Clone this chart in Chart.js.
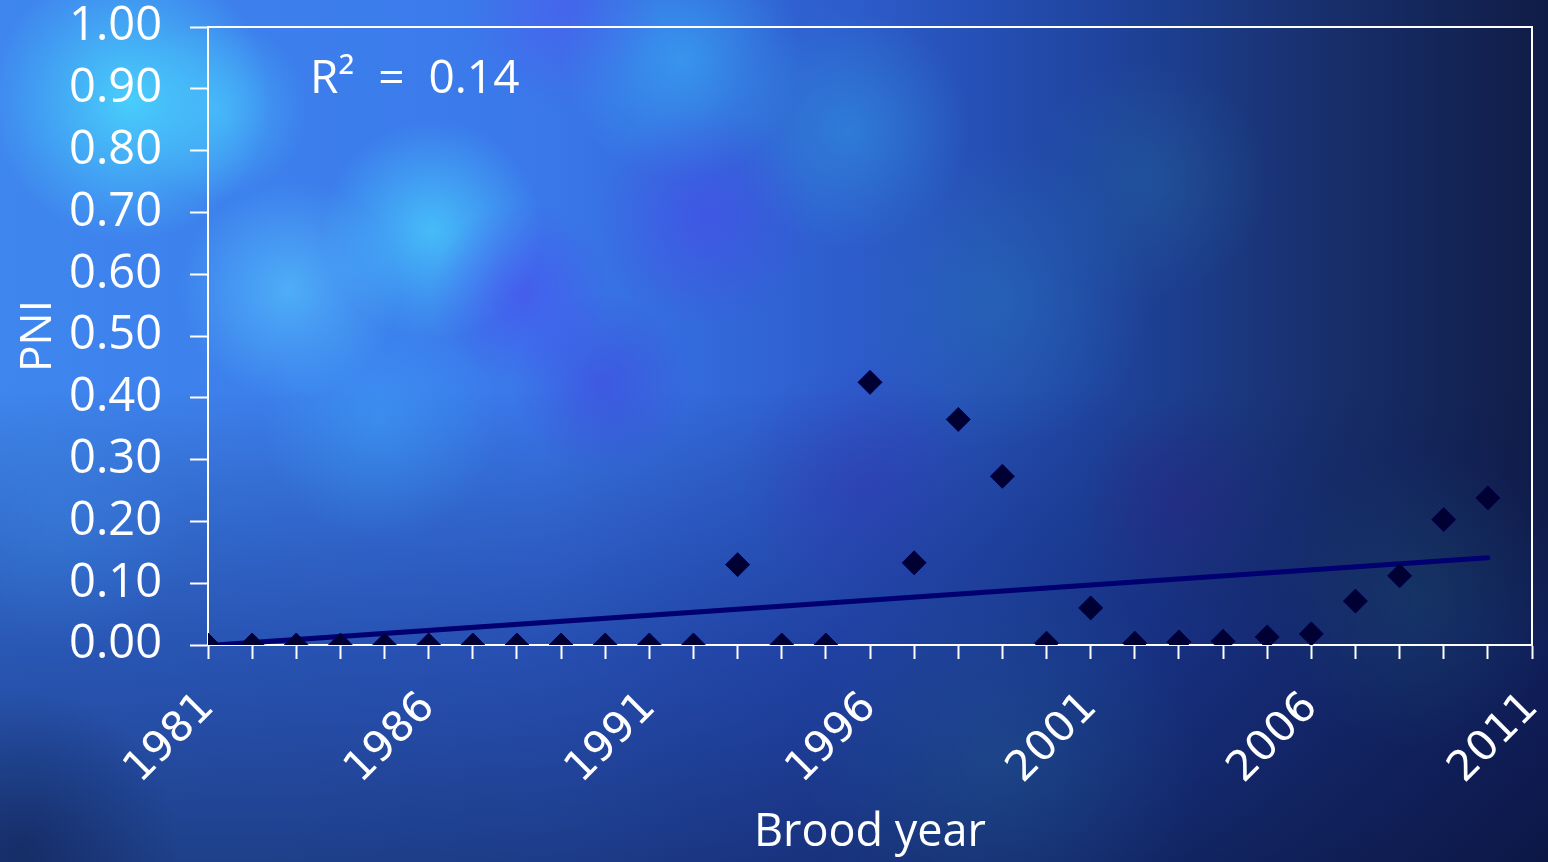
<!DOCTYPE html>
<html>
<head>
<meta charset="utf-8">
<script src="https://cdn.jsdelivr.net/npm/chart.js@4"></script>
<style>
    html, body { margin: 0; padding: 0; background: #1b2f86; overflow: hidden; }
    #wrap { width: 1548px; height: 862px; position: relative; }
</style>
</head>
<body>
<div id="wrap"><canvas id="pni_chart" width="1548" height="862"></canvas></div>
<script>
// brood years and PNI values
var years = [1981, 1982, 1983, 1984, 1985, 1986, 1987, 1988, 1989, 1990,
             1991, 1992, 1993, 1994, 1995, 1996, 1997, 1998, 1999, 2000,
             2001, 2002, 2003, 2004, 2005, 2006, 2007, 2008, 2009, 2010];
var pni = [0, 0, 0, 0, 0, 0, 0, 0, 0, 0,
           0, 0, 0.130, 0, 0, 0.425, 0.133, 0.365, 0.273, 0.003,
           0.060, 0.003, 0.005, 0.006, 0.013, 0.018, 0.071, 0.112, 0.203, 0.238];

// linear trend line end points
var trendYears = [1981, 2010];
var trendPni = [-0.001, 0.141];

var yTicks = [0, 0.1, 0.2, 0.3, 0.4, 0.5, 0.6, 0.7, 0.8, 0.9, 1.0];
var labelYears = [1981, 1986, 1991, 1996, 2001, 2006, 2011];
var r2Text = 'R\u00B2  =  0.14';

function toPoints(xs, ys){
    var out = [];
    for (var i = 0; i < xs.length; i++) out.push({x: xs[i], y: ys[i]});
    return out;
}

// cloudy blue backdrop
var backdrop = {
    id: 'backdrop',
    beforeDraw: function(chart){
        var ctx = chart.ctx, w = chart.width, h = chart.height;
        ctx.save();
        var g = ctx.createLinearGradient(0, 0, w, 0);
        g.addColorStop(0, '#3f86ee');
        g.addColorStop(0.35, '#3a78ea');
        g.addColorStop(0.55, '#2d5ccc');
        g.addColorStop(0.7, '#2046a2');
        g.addColorStop(0.85, '#18306e');
        g.addColorStop(1, '#101c46');
        ctx.fillStyle = g;
        ctx.fillRect(0, 0, w, h);
        var v = ctx.createLinearGradient(0, 0, 0, h);
        v.addColorStop(0, 'rgba(10,20,80,0)');
        v.addColorStop(0.45, 'rgba(10,20,80,0)');
        v.addColorStop(0.75, 'rgba(15,30,110,0.45)');
        v.addColorStop(1, 'rgba(10,20,70,0.6)');
        ctx.fillStyle = v;
        ctx.fillRect(0, 0, w, h);
        var blobs = [
            [130, 100, 140, 'rgba(75,225,255,0.8)'],
            [218, 110, 90, 'rgba(75,210,255,0.5)'],
            [432, 230, 110, 'rgba(75,215,255,0.7)'],
            [289, 290, 110, 'rgba(90,205,255,0.6)'],
            [682, 60, 120, 'rgba(60,190,255,0.5)'],
            [850, 130, 120, 'rgba(50,170,230,0.4)'],
            [380, 420, 120, 'rgba(60,180,255,0.35)'],
            [60, 520, 130, 'rgba(60,140,230,0.3)'],
            [521, 293, 90, 'rgba(80,60,240,0.45)'],
            [704, 217, 110, 'rgba(80,60,240,0.4)'],
            [602, 383, 90, 'rgba(70,50,220,0.4)'],
            [560, 10, 100, 'rgba(90,70,240,0.35)'],
            [1000, 300, 150, 'rgba(40,130,190,0.35)'],
            [1150, 180, 120, 'rgba(40,120,170,0.3)'],
            [1420, 600, 150, 'rgba(30,90,110,0.3)'],
            [1180, 500, 100, 'rgba(50,30,130,0.35)'],
            [860, 480, 120, 'rgba(60,40,170,0.3)'],
            [1000, 760, 200, 'rgba(40,110,150,0.3)'],
            [20, 850, 160, 'rgba(10,20,60,0.45)']
        ];
        blobs.forEach(function(b){
            var rg = ctx.createRadialGradient(b[0], b[1], 0, b[0], b[1], b[2]);
            rg.addColorStop(0, b[3]);
            rg.addColorStop(1, b[3].replace(/[\d.]+\)$/, '0)'));
            ctx.fillStyle = rg;
            ctx.fillRect(0, 0, w, h);
        });
        ctx.restore();
    },
    afterDatasetsDraw: function(chart){
        var ctx = chart.ctx, a = chart.chartArea;
        ctx.save();
        ctx.strokeStyle = '#ffffff';
        ctx.lineWidth = 2;
        ctx.beginPath();
        ctx.moveTo(a.left, a.top);
        ctx.lineTo(a.right, a.top);
        ctx.lineTo(a.right, a.bottom);
        ctx.stroke();
        ctx.fillStyle = '#ffffff';
        ctx.font = '46px "Open Sans"';
        ctx.textBaseline = 'middle';
        ctx.fillText(r2Text, a.left + 102, a.top + 53);
        ctx.restore();
    }
};

var ctx = document.getElementById('pni_chart').getContext('2d');
var myChart = new Chart(ctx, {
    type: 'scatter',
    data: {
        datasets: [{
            label: 'PNI',
            data: toPoints(years, pni),
            pointStyle: 'rectRot',
            pointRadius: 12,
            pointHoverRadius: 12,
            backgroundColor: '#000033',
            borderColor: '#000050',
            borderWidth: 1,
            order: 0
        }, {
            label: 'Trend',
            type: 'line',
            data: toPoints(trendYears, trendPni),
            borderColor: '#000070',
            borderWidth: 5,
            borderCapStyle: 'round',
            pointRadius: 0,
            fill: false,
            order: 1
        }]
    },
    options: {
        responsive: false,
        animation: false,
        devicePixelRatio: 1,
        layout: { padding: { top: 27, right: 16, left: 0, bottom: 0 } },
        scales: {
            x: {
                type: 'linear',
                min: 1981,
                max: 2011,
                afterFit: function(s){
                    s.height = 217;
                    s.paddingLeft = 0;
                    s.paddingRight = 0;
                },
                afterBuildTicks: function(s){
                    s.ticks = [];
                    for (var v = 1981; v <= 2011; v++) s.ticks.push({value: v});
                },
                border: { display: true, color: '#ffffff', width: 2 },
                grid: {
                    drawOnChartArea: false,
                    drawTicks: true,
                    color: '#ffffff',
                    tickLength: 14,
                    tickWidth: 2
                },
                ticks: {
                    autoSkip: false,
                    maxRotation: 45,
                    minRotation: 45,
                    padding: 24,
                    color: '#ffffff',
                    font: { family: '"DejaVu Sans"', size: 42 },
                    callback: function(v){ return labelYears.indexOf(v) >= 0 ? String(v) : ''; }
                },
                title: {
                    display: true,
                    text: 'Brood year',
                    color: '#ffffff',
                    font: { family: '"Open Sans"', size: 45 },
                    padding: { top: 0, bottom: 2 }
                }
            },
            y: {
                min: 0,
                max: 1,
                afterFit: function(s){
                    s.width = 208;
                    s.paddingTop = 0;
                    s.paddingBottom = 0;
                },
                afterBuildTicks: function(s){
                    s.ticks = yTicks.map(function(v){ return {value: v}; });
                },
                border: { display: true, color: '#ffffff', width: 2 },
                grid: {
                    drawOnChartArea: false,
                    drawTicks: true,
                    color: '#ffffff',
                    tickLength: 18,
                    tickWidth: 2
                },
                ticks: {
                    padding: 28,
                    color: '#ffffff',
                    font: { family: '"Open Sans"', size: 47 },
                    callback: function(v){ return v.toFixed(2); }
                },
                title: {
                    display: true,
                    text: 'PNI',
                    color: '#ffffff',
                    font: { family: '"Open Sans"', size: 44 },
                    padding: { top: 12, bottom: 0 }
                }
            }
        },
        plugins: {
            legend: { display: false },
            tooltip: { enabled: false }
        }
    },
    plugins: [backdrop]
});
</script>
</body>
</html>
